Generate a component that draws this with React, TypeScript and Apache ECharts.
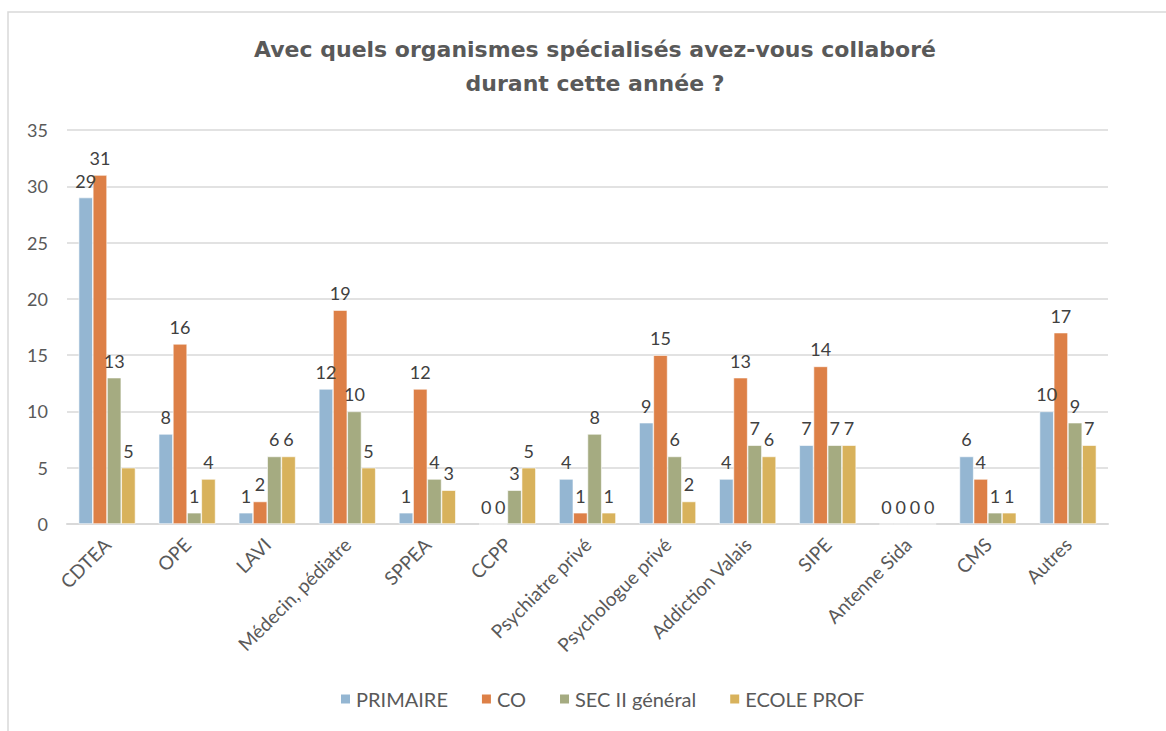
import React, { useEffect, useRef } from "react";
import * as echarts from "echarts";

const categories = [
  "CDTEA",
  "OPE",
  "LAVI",
  "Médecin, pédiatre",
  "SPPEA",
  "CCPP",
  "Psychiatre privé",
  "Psychologue privé",
  "Addiction Valais",
  "SIPE",
  "Antenne Sida",
  "CMS",
  "Autres",
];
const primaire = [29, 8, 1, 12, 1, 0, 4, 9, 4, 7, 0, 6, 10];
const co = [31, 16, 2, 19, 12, 0, 1, 15, 13, 14, 0, 4, 17];
const sec2 = [13, 1, 6, 10, 4, 3, 8, 6, 7, 7, 0, 1, 9];
const ecoleProf = [5, 4, 6, 5, 3, 5, 1, 2, 6, 7, 0, 1, 7];
const yTicks = [0, 5, 10, 15, 20, 25, 30, 35];
const titleText = "Avec quels organismes spécialisés avez-vous collaboré\ndurant cette année ?";

const seriesDefs = [
  { name: "PRIMAIRE", data: primaire, color: "#94B6D2" },
  { name: "CO", data: co, color: "#DD8047" },
  { name: "SEC II général", data: sec2, color: "#A5AB81" },
  { name: "ECOLE PROF", data: ecoleProf, color: "#D8B25C" },
];

const FONT = "Lato, 'DejaVu Sans', sans-serif";
const TXT = "#595959";

export default function App() {
  const ref = useRef<HTMLDivElement>(null);
  useEffect(() => {
    document.body.style.margin = "0";
    const chart = echarts.init(ref.current!, null, { renderer: "svg" });
    chart.setOption({
      animation: false,
      backgroundColor: "#fff",
      textStyle: { fontFamily: FONT },
      graphic: [
        {
          type: "rect",
          shape: { x: 8, y: 12, width: 1180, height: 740 },
          style: { fill: "none", stroke: "#d9d9d9", lineWidth: 1.5 },
          silent: true,
          z: -1,
        },
        {
          type: "text",
          x: 595,
          y: 32,
          silent: true,
          style: {
            text: titleText,
            textAlign: "center",
            textVerticalAlign: "top",
            fontFamily: "'DejaVu Sans', sans-serif",
            fontSize: 22,
            fontWeight: "bold",
            fill: TXT,
            lineHeight: 34,
          },
        },
      ],
      legend: {
        bottom: 17,
        left: 334,
        itemWidth: 11,
        itemHeight: 11,
        itemGap: 32,
        icon: "rect",
        textStyle: { fontFamily: FONT, fontSize: 20, color: TXT },
        data: seriesDefs.map((s) => s.name),
      },
      grid: { left: 67, right: 58, top: 130, bottom: 207 },
      xAxis: {
        type: "category",
        data: categories,
        axisLine: { lineStyle: { color: "#d9d9d9", width: 2 } },
        axisTick: { show: false },
        axisLabel: {
          rotate: 45,
          fontFamily: FONT,
          fontSize: 19,
          color: TXT,
          margin: 17,
          interval: 0,
        },
      },
      yAxis: {
        type: "value",
        min: 0,
        max: 35,
        interval: 5,
        axisLine: { show: false },
        axisTick: { show: false },
        splitLine: { lineStyle: { color: "#d9d9d9", width: 1.5 } },
        axisLabel: {
          fontFamily: FONT,
          fontSize: 18,
          color: TXT,
          margin: 19,
          customValues: yTicks,
        },
      },
      series: seriesDefs.map((s) => ({
        name: s.name,
        type: "bar",
        data: s.data,
        barGap: "0%",
        barCategoryGap: "29%",
        itemStyle: { color: s.color, borderColor: "#fff", borderWidth: 0.6 },
        label: {
          show: true,
          position: "top",
          distance: 8,
          fontFamily: FONT,
          fontSize: 18,
          color: "#404040",
        },
      })),
    });
    return () => chart.dispose();
  }, []);
  return <div ref={ref} style={{ width: 1166, height: 731 }} />;
}
